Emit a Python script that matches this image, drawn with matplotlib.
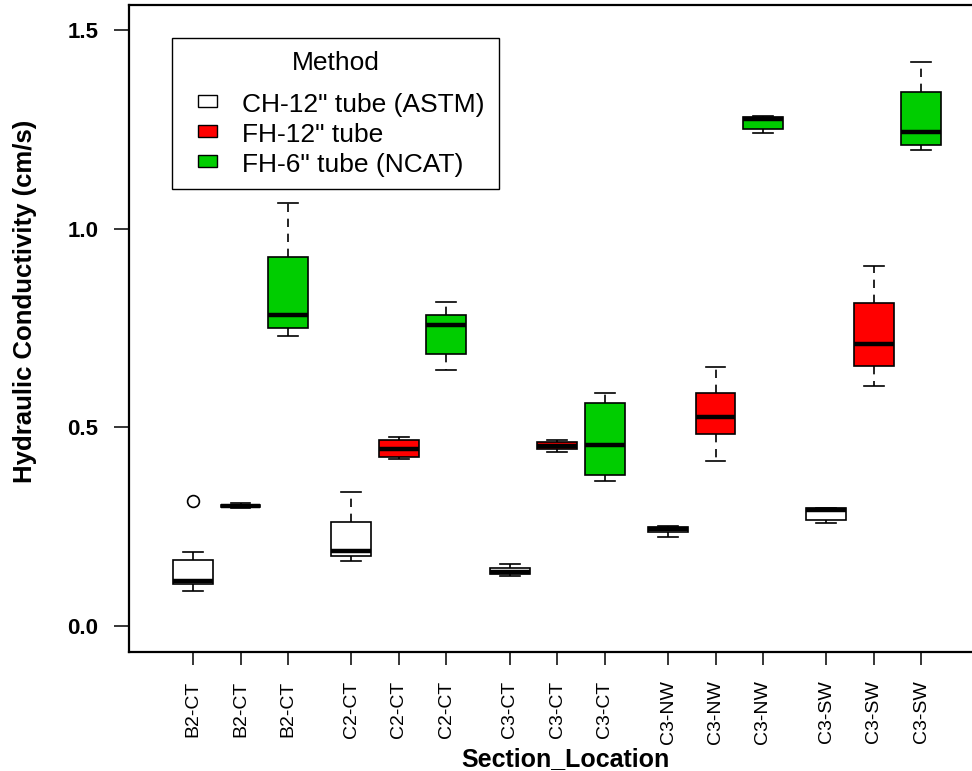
import numpy as np
import matplotlib
matplotlib.use("Agg")
import matplotlib.pyplot as plt
from matplotlib.patches import Rectangle

# Box statistics (cm/s)
sections = ["B2-CT", "C2-CT", "C3-CT", "C3-NW", "C3-SW"]
methods = ['CH-12" tube (ASTM)', 'FH-12" tube', 'FH-6" tube (NCAT)']
method_colors = ["white", "#FF0000", "#00CD00"]

# one row per section, columns follow methods
whis_lo = [[0.089, 0.297, 0.729],
           [0.164, 0.420, 0.645],
           [0.127, 0.439, 0.364],
           [0.225, 0.415, 1.242],
           [0.258, 0.605, 1.197]]
q1 = [[0.105, 0.299, 0.749],
      [0.176, 0.425, 0.685],
      [0.130, 0.446, 0.380],
      [0.237, 0.483, 1.252],
      [0.266, 0.655, 1.210]]
med = [[0.113, 0.302, 0.784],
       [0.189, 0.446, 0.757],
       [0.136, 0.454, 0.455],
       [0.243, 0.526, 1.276],
       [0.293, 0.711, 1.243]]
q3 = [[0.165, 0.305, 0.930],
      [0.263, 0.468, 0.784],
      [0.146, 0.462, 0.562],
      [0.249, 0.586, 1.281],
      [0.297, 0.814, 1.344]]
whis_hi = [[0.187, 0.310, 1.064],
           [0.337, 0.476, 0.816],
           [0.156, 0.467, 0.586],
           [0.251, 0.652, 1.283],
           [0.298, 0.905, 1.419]]
outliers = {(0, 0): [0.314]}

W, H = 972, 771
fig = plt.figure(figsize=(W / 100, H / 100), dpi=100)

# axes placed in pixel terms (right edge runs off the picture like the reference)
left, right, top, bottom = 129, 1000, 5, 652
ax = fig.add_axes([left / W, 1 - bottom / H, (right - left) / W, (bottom - top) / H])

group_gap = 10 / 3
stats, positions, colors, labels = [], [], [], []
for g, sec in enumerate(sections):
    for k in range(len(methods)):
        stats.append(dict(med=med[g][k], q1=q1[g][k], q3=q3[g][k],
                          whislo=whis_lo[g][k], whishi=whis_hi[g][k],
                          fliers=outliers.get((g, k), [])))
        positions.append(g * group_gap + k)
        colors.append(method_colors[k])
        labels.append(sec)

bp = ax.bxp(stats, positions=positions, widths=0.84, capwidths=0.42,
            patch_artist=True, manage_ticks=False,
            boxprops=dict(edgecolor="black", linewidth=1.2),
            medianprops=dict(color="black", linewidth=3.2, solid_capstyle="butt"),
            whiskerprops=dict(color="black", linewidth=1.2, linestyle=(0, (5, 4))),
            capprops=dict(color="black", linewidth=1.2),
            flierprops=dict(marker="o", markerfacecolor="none", markeredgecolor="black",
                            markersize=8.5, markeredgewidth=1.2))
for patch, c in zip(bp["boxes"], colors):
    patch.set_facecolor(c)

# 47.5 px per box slot, first box at x=193 px
px_per_unit = 47.5
ax.set_xlim((left - 193) / px_per_unit, (right - 193) / px_per_unit)
ax.set_ylim(-26 / 397.3, 621 / 397.3)

ax.set_xticks(positions)
ax.set_xticklabels(labels, rotation=90, fontsize=14, family="Liberation Sans")
ax.set_yticks([0.0, 0.5, 1.0, 1.5])
ax.set_yticklabels(["0.0", "0.5", "1.0", "1.5"], fontsize=16,
                   family="Liberation Sans", fontweight="bold")
ax.tick_params(axis="y", length=11, width=1.1, pad=11)
ax.tick_params(axis="x", length=9.5, width=1.1, pad=11)

for s in ["left", "top", "bottom"]:
    ax.spines[s].set_linewidth(1.6)
ax.spines["right"].set_visible(False)

def fx(x):
    return x / W

def fy(y):
    return 1 - y / H

fig.text(fx(25), fy(301), "Hydraulic Conductivity (cm/s)", rotation=90,
         ha="center", va="center", fontsize=18.5, fontweight="bold",
         family="Liberation Sans")
fig.text(fx(565), fy(766), "Section_Location", ha="center", va="baseline",
         fontsize=18, fontweight="bold", family="Liberation Sans")

# legend drawn by hand to match the R layout
fig.add_artist(Rectangle((fx(172), fy(189)), (499 - 172) / W, (189 - 38) / H,
                         transform=fig.transFigure, facecolor="white",
                         edgecolor="black", linewidth=1.0))
fig.text(fx(335.5), fy(70), "Method", ha="center", va="baseline",
         fontsize=19, family="Liberation Sans")
for i, (m, c) in enumerate(zip(methods, method_colors)):
    yc = 101 + 30 * i
    fig.add_artist(Rectangle((fx(198), fy(yc + 6)), 19 / W, 12 / H,
                             transform=fig.transFigure, facecolor=c,
                             edgecolor="black", linewidth=1.0))
    fig.text(fx(242), fy(112 + 30 * i), m, ha="left", va="baseline",
             fontsize=19, family="Liberation Sans")

fig.savefig("out.png", dpi=100)
